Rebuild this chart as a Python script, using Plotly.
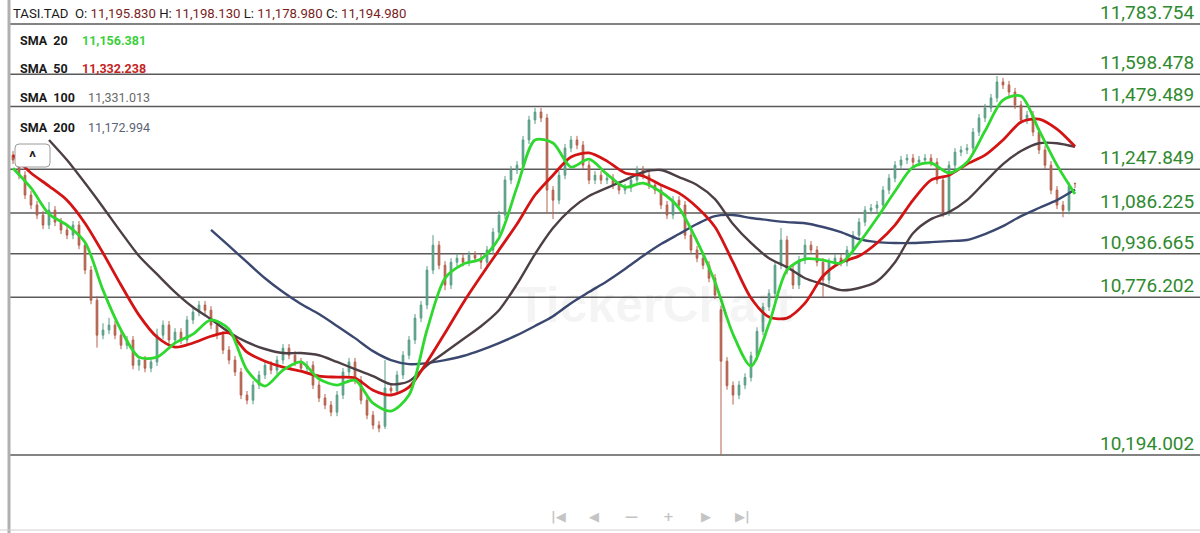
import plotly.graph_objects as go

# ---------------- data ----------------
bars = list(range(178))

opens = [11300, 11282, 11226, 11153, 11116, 11079, 11042, 11097, 11053, 11024,
         11005, 11042, 10968, 10876, 10765, 10636, 10655, 10673, 10636, 10599,
         10618, 10525, 10544, 10514, 10537, 10636, 10673, 10618, 10647, 10618,
         10692, 10721, 10747, 10728, 10673, 10636, 10581, 10544, 10500, 10415,
         10396, 10452, 10489, 10525, 10507, 10544, 10588, 10562, 10537, 10514,
         10525, 10452, 10404, 10378, 10352, 10415, 10500, 10537, 10470, 10396,
         10341, 10304, 10300, 10441, 10430, 10489, 10562, 10618, 10699, 10747,
         10876, 10968, 10894, 10821, 10905, 10920, 10905, 10931, 10920, 10905,
         10950, 11016, 11079, 11208, 11245, 11263, 11356, 11430, 11459, 11437,
         11171, 11134, 11226, 11326, 11356, 11337, 11263, 11208, 11226, 11208,
         11215, 11190, 11171, 11179, 11208, 11245, 11226, 11190, 11171, 11116,
         11079, 11134, 11116, 11005, 10950, 10920, 10894, 10846, 10730, 10540,
         10450, 10415, 10452, 10480, 10560, 10650, 10740, 10790, 10894, 10987,
         10876, 10821, 10913, 10968, 10950, 10905, 10839, 10905, 10920, 10905,
         10950, 11005, 11053, 11097, 11105, 11116, 11171, 11215, 11263, 11282,
         11289, 11274, 11282, 11289, 11274, 11208, 11090, 11263, 11311, 11319,
         11326, 11385, 11437, 11474, 11511, 11570, 11559, 11533, 11485, 11430,
         11448, 11385, 11319, 11263, 11171, 11116, 11097, 11195.83]

closes = [11282, 11226, 11153, 11116, 11079, 11042, 11097, 11053, 11024, 11005,
          11042, 10968, 10876, 10765, 10636, 10655, 10673, 10636, 10599, 10618,
          10525, 10544, 10514, 10537, 10636, 10673, 10618, 10647, 10618, 10692,
          10721, 10747, 10728, 10673, 10636, 10581, 10544, 10500, 10415, 10396,
          10452, 10489, 10525, 10507, 10544, 10588, 10562, 10537, 10514, 10525,
          10452, 10404, 10378, 10352, 10415, 10500, 10537, 10470, 10396, 10341,
          10304, 10293, 10441, 10430, 10489, 10562, 10618, 10699, 10747, 10876,
          10968, 10894, 10821, 10905, 10920, 10905, 10931, 10920, 10905, 10950,
          11016, 11079, 11208, 11245, 11263, 11356, 11430, 11459, 11437, 11171,
          11134, 11226, 11326, 11356, 11337, 11263, 11208, 11226, 11208, 11215,
          11190, 11171, 11179, 11208, 11245, 11226, 11190, 11171, 11116, 11079,
          11134, 11116, 11005, 10950, 10920, 10894, 10846, 10784, 10540, 10450,
          10415, 10452, 10480, 10560, 10650, 10740, 10790, 10894, 10987, 10876,
          10821, 10913, 10968, 10950, 10905, 10839, 10905, 10920, 10905, 10950,
          11005, 11053, 11097, 11105, 11116, 11171, 11215, 11263, 11282, 11289,
          11274, 11282, 11289, 11274, 11208, 11090, 11263, 11311, 11319, 11326,
          11385, 11437, 11474, 11511, 11570, 11559, 11533, 11485, 11430, 11448,
          11385, 11319, 11263, 11171, 11116, 11097, 11185, 11194.98]

highs = [11315, 11297, 11241, 11168, 11131, 11094, 11127, 11112, 11068, 11039,
         11057, 11057, 10983, 10891, 10780, 10680, 10700, 10688, 10651, 10633,
         10633, 10559, 10559, 10552, 10660, 10690, 10688, 10662, 10662, 10707,
         10736, 10762, 10762, 10743, 10688, 10651, 10596, 10559, 10515, 10430,
         10467, 10504, 10540, 10540, 10559, 10603, 10603, 10577, 10552, 10540,
         10540, 10467, 10419, 10393, 10430, 10515, 10552, 10552, 10485, 10411,
         10356, 10319, 10544, 10456, 10504, 10577, 10633, 10714, 10762, 10891,
         11005, 10983, 10909, 10920, 10935, 10935, 10946, 10946, 10935, 10965,
         11031, 11094, 11223, 11260, 11278, 11371, 11445, 11474, 11474, 11452,
         11186, 11241, 11341, 11371, 11371, 11352, 11278, 11241, 11241, 11230,
         11230, 11205, 11194, 11223, 11260, 11260, 11241, 11205, 11186, 11131,
         11149, 11149, 11131, 11020, 10965, 10935, 10909, 10861, 10745, 10555,
         10465, 10467, 10495, 10575, 10665, 10755, 10805, 10909, 11031, 11002,
         10891, 10928, 10990, 10983, 10965, 10920, 10920, 10935, 10935, 10965,
         11020, 11068, 11112, 11120, 11131, 11186, 11230, 11278, 11297, 11304,
         11304, 11297, 11304, 11304, 11289, 11223, 11278, 11326, 11334, 11341,
         11400, 11452, 11489, 11526, 11592, 11585, 11574, 11548, 11500, 11463,
         11463, 11400, 11334, 11278, 11186, 11131, 11200, 11198.13]

lows = [11267, 11211, 11138, 11101, 11064, 11027, 11027, 11038, 11009, 10990,
        10990, 10953, 10861, 10750, 10590, 10621, 10640, 10621, 10584, 10584,
        10510, 10505, 10499, 10499, 10522, 10621, 10603, 10603, 10603, 10603,
        10677, 10706, 10713, 10658, 10621, 10566, 10529, 10485, 10400, 10381,
        10381, 10437, 10474, 10492, 10492, 10529, 10547, 10522, 10499, 10499,
        10437, 10389, 10363, 10337, 10337, 10400, 10485, 10455, 10381, 10326,
        10289, 10278, 10290, 10415, 10415, 10474, 10547, 10603, 10684, 10732,
        10861, 10879, 10802, 10806, 10890, 10890, 10890, 10905, 10880, 10890,
        10935, 11001, 11064, 11193, 11230, 11248, 11341, 11415, 11422, 11086,
        11064, 11119, 11211, 11311, 11322, 11248, 11193, 11193, 11193, 11193,
        11175, 11156, 11156, 11164, 11193, 11211, 11175, 11156, 11101, 11064,
        11064, 11101, 10990, 10935, 10905, 10879, 10831, 10769, 10194.002, 10435,
        10380, 10400, 10437, 10465, 10545, 10635, 10725, 10775, 10879, 10861,
        10806, 10806, 10898, 10935, 10890, 10776, 10824, 10890, 10890, 10890,
        10935, 10990, 11038, 11082, 11090, 11101, 11156, 11200, 11248, 11267,
        11259, 11259, 11267, 11259, 11193, 11071, 11075, 11248, 11296, 11304,
        11311, 11370, 11422, 11459, 11496, 11544, 11518, 11470, 11415, 11415,
        11370, 11304, 11248, 11156, 11101, 11071, 11082, 11178.98]

# moving averages read every third bar
sma_bars = bars[::3]
sma20 = [11252, 11179, 11083, 11042, 10979, 10802, 10655, 10555, 10555, 10607,
         10640, 10692, 10658, 10507, 10448, 10507, 10537, 10474, 10452, 10470,
         10385, 10356, 10415, 10655, 10846, 10898, 10917, 10994, 11182, 11356,
         11345, 11256, 11285, 11230, 11182, 11197, 11164, 11105, 10983, 10832,
         10640, 10522, 10677, 10876, 10917, 10913, 10902, 10976, 11068, 11167,
         11256, 11271, 11234, 11274, 11389, 11503, 11518, 11392, 11263, 11156.381]
sma50 = [11300, 11234, 11186, 11134, 11049, 10939, 10821, 10710, 10629, 10592,
         10607, 10632, 10644, 10573, 10540, 10518, 10503, 10485, 10481, 10478,
         10433, 10415, 10444, 10537, 10644, 10754, 10854, 10950, 11046, 11153,
         11226, 11293, 11308, 11278, 11234, 11223, 11190, 11160, 11108, 11035,
         10905, 10773, 10703, 10699, 10754, 10854, 10905, 10928, 10976, 11042,
         11134, 11208, 11226, 11267, 11300, 11356, 11422, 11433, 11396, 11332.238]
sma100 = [None, None,
          11356, 11282, 11197, 11108, 11016, 10928, 10861, 10795, 10739, 10695,
          10647, 10610, 10585, 10570, 10570, 10562, 10537, 10511, 10485, 10455,
          10466, 10525, 10573, 10621, 10669, 10728, 10824, 10935, 11031, 11101,
          11149, 11179, 11208, 11237, 11245, 11219, 11190, 11138, 11046, 10976,
          10920, 10887, 10846, 10824, 10802, 10810, 10835, 10905, 11012, 11064,
          11090, 11134, 11201, 11267, 11315, 11344, 11344, 11331.013]
sma200 = [None] * 11 + [
          11024, 10965, 10905, 10846, 10795, 10751, 10714, 10670, 10625, 10577,
          10544, 10529, 10533, 10544, 10559, 10581, 10607, 10636, 10670, 10706,
          10754, 10795, 10835, 10880, 10928, 10972, 11009, 11046, 11075, 11079,
          11068, 11060, 11053, 11049, 11035, 11016, 10990, 10979, 10976, 10976,
          10979, 10983, 10987, 11009, 11038, 11075, 11105, 11134, 11172.994]

levels = [11783.754, 11598.478, 11479.489, 11247.849, 11086.225,
          10936.665, 10776.202, 10194.002]
level_labels = ["11,783.754", "11,598.478", "11,479.489", "11,247.849",
                "11,086.225", "10,936.665", "10,776.202", "10,194.002"]

symbol = "TASI.TAD"
ohlc_labels = ["O:", "H:", "L:", "C:"]
ohlc_values = ["11,195.830", "11,198.130", "11,178.980", "11,194.980"]
sma_names = ["SMA  20", "SMA  50", "SMA  100", "SMA  200"]
sma_values = ["11,156.381", "11,332.238", "11,331.013", "11,172.994"]

# ---------------- styles ----------------
W, H = 1200, 533
UP_COL = "#5a9e86"
DN_COL = "#b4604e"
SMA_COLS = ["#2fd82f", "#d41414", "#4c3f46", "#3a4870"]
SMA_VAL_COLS = ["#3ccf3c", "#c42424", "#6a6a6a", "#5b6475"]
LEVEL_COL = "#5a5a5a"
LABEL_COL = "#2f8a2f"
FONT = "Roboto"

fig = go.Figure()

fig.add_trace(go.Candlestick(
    x=bars, open=opens, high=highs, low=lows, close=closes,
    increasing=dict(line=dict(color=UP_COL, width=1), fillcolor=UP_COL),
    decreasing=dict(line=dict(color=DN_COL, width=1), fillcolor=DN_COL),
    whiskerwidth=0, showlegend=False, hoverinfo="skip"))

for vals, col, w in [(sma200, SMA_COLS[3], 2.4), (sma100, SMA_COLS[2], 2.4),
                     (sma50, SMA_COLS[1], 2.8), (sma20, SMA_COLS[0], 2.8)]:
    fig.add_trace(go.Scatter(x=sma_bars, y=vals, mode="lines",
                             line=dict(color=col, width=w, shape="spline", smoothing=0.8),
                             showlegend=False, hoverinfo="skip", connectgaps=False))

shapes = []
for lv in levels:
    shapes.append(dict(type="line", xref="paper", yref="y", x0=8 / W, x1=1,
                       y0=lv, y1=lv, line=dict(color=LEVEL_COL, width=1.5), layer="below"))
# left border
shapes.append(dict(type="line", xref="paper", yref="paper", x0=9 / W, x1=9 / W,
                   y0=0, y1=1, line=dict(color="#b0b0b0", width=3)))
# bottom border
shapes.append(dict(type="line", xref="paper", yref="paper", x0=0, x1=1,
                   y0=1 - 530 / H, y1=1 - 530 / H, line=dict(color="#d0d0d0", width=1)))


def px(x):
    return x / W


def py(y):
    return 1 - y / H


# rounded button
bx0, bx1, by0, by1, r = 15, 50, 144, 167, 4
path = (f"M {px(bx0 + r)} {py(by0)} L {px(bx1 - r)} {py(by0)} "
        f"Q {px(bx1)} {py(by0)} {px(bx1)} {py(by0 + r)} L {px(bx1)} {py(by1 - r)} "
        f"Q {px(bx1)} {py(by1)} {px(bx1 - r)} {py(by1)} L {px(bx0 + r)} {py(by1)} "
        f"Q {px(bx0)} {py(by1)} {px(bx0)} {py(by1 - r)} L {px(bx0)} {py(by0 + r)} "
        f"Q {px(bx0)} {py(by0)} {px(bx0 + r)} {py(by0)} Z")
shapes.append(dict(type="path", xref="paper", yref="paper", path=path,
                   line=dict(color="#9a9a9a", width=1), fillcolor="white"))

annotations = []
for lv, lab in zip(levels, level_labels):
    annotations.append(dict(x=1196 / W, xref="paper", y=lv, yref="y", text=lab,
                            xanchor="right", yanchor="bottom", showarrow=False,
                            yshift=-2, font=dict(family=FONT, size=19, color=LABEL_COL)))

hdr = f"{symbol}&nbsp; " + " ".join(
    f"{l} <span style='color:#7a1e1e'>{v}</span>" for l, v in zip(ohlc_labels, ohlc_values))
annotations.append(dict(x=11 / W, xref="paper", y=py(14), yref="paper", text=hdr,
                        xanchor="left", yanchor="middle", showarrow=False,
                        font=dict(family=FONT, size=13.2, color="#1a1a1a")))

rows_y = [40, 68, 98, 127]
val_x = [80, 80, 86, 86]
for i, (name, val, col, yy, vx) in enumerate(zip(sma_names, sma_values, SMA_VAL_COLS, rows_y, val_x)):
    annotations.append(dict(x=18 / W, xref="paper", y=py(yy), yref="paper",
                            text=f"<b>{name.replace(' ', '&nbsp;')}</b>",
                            xanchor="left", yanchor="middle", showarrow=False,
                            font=dict(family=FONT, size=12.5, color="#1a1a1a")))
    annotations.append(dict(x=vx / W, xref="paper", y=py(yy), yref="paper",
                            text=f"<b>{val}</b>" if i < 2 else val,
                            xanchor="left", yanchor="middle", showarrow=False,
                            font=dict(family=FONT, size=12.5, color=col)))

annotations.append(dict(x=32.5 / W, xref="paper", y=py(157), yref="paper", text="<b>^</b>",
                        xanchor="center", yanchor="middle", showarrow=False,
                        font=dict(family=FONT, size=16, color="#222")))

# watermark
annotations.append(dict(x=655 / W, xref="paper", y=py(305), yref="paper", text="<b>TickerChart</b>",
                        xanchor="center", yanchor="middle", showarrow=False,
                        font=dict(family="Liberation Sans", size=50, color="rgba(0,0,0,0.045)")))

# navigation icons
nav = [("|◀", 558), ("◀", 594), ("—", 631), ("+", 668), ("▶", 706), ("▶|", 742)]
for t, xx in nav:
    annotations.append(dict(x=xx / W, xref="paper", y=py(516), yref="paper", text=f"<b>{t}</b>",
                            xanchor="center", yanchor="middle", showarrow=False,
                            font=dict(family="DejaVu Sans", size=13, color="#c4c4c4")))

fig.update_layout(
    width=W, height=H,
    margin=dict(l=0, r=0, t=0, b=0),
    paper_bgcolor="white", plot_bgcolor="white",
    boxgap=0.6,
    xaxis=dict(range=[-13 / 6, 1187 / 6], visible=False, rangeslider=dict(visible=False),
               fixedrange=True),
    yaxis=dict(range=[9906.2, 11872.3], visible=False, fixedrange=True),
    shapes=shapes, annotations=annotations,
    showlegend=False,
)

fig.write_html("out.html", config={"displayModeBar": False},
               post_script="document.body.style.margin='0';document.body.style.overflow='hidden';")
